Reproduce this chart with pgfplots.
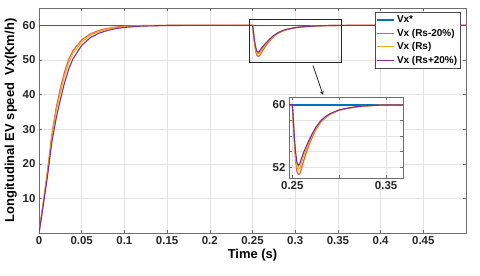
\documentclass[border=0pt]{standalone}
\usepackage{pgfplots}
\pgfplotsset{compat=1.18}
\usepackage{pgfplotstable}
\usepackage{fontspec}
\setmainfont{Liberation Sans}
\definecolor{mblue}{HTML}{0072BD}
\definecolor{morange}{RGB}{232,98,48}
\definecolor{myellow}{HTML}{EDB120}
\definecolor{mpurple}{HTML}{7E2F8E}
\definecolor{axgray}{RGB}{110,110,110}

\pgfplotstableread{
t      lo     rs     hi
0      0      0      0
0.005  8.8    8.5    8.0
0.01   18.0   17.5   16.5
0.015  28.5   27.8   26.2
0.02   36.0   35.0   33.0
0.025  41.8   40.5   38.5
0.03   46.6   45.5   43.5
0.035  50.3   49.3   47.5
0.04   52.8   51.9   50.4
0.05   55.8   55.2   54.2
0.06   57.5   57.1   56.4
0.07   58.5   58.2   57.7
0.08   59.1   58.9   58.5
0.09   59.5   59.35  59.05
0.1    59.7   59.6   59.4
0.12   59.92  59.86  59.78
0.15   59.99  59.97  59.94
0.2    60     60     60
0.25   60     60     60
0.2505 59.2   59.25  59.3
0.252  55.6   55.9   56.3
0.2535 52.8   53.3   53.9
0.255  51.4   52.0   52.6
0.2565 51.05  51.72  52.17
0.258  51.15  51.9   52.45
0.26   51.9   52.6   53.2
0.2625 52.95  53.55  54.0
0.265  53.9   54.35  54.7
0.27   55.5   55.8   56.0
0.275  56.8   56.95  57.1
0.28   57.7   57.8   57.9
0.285  58.3   58.38  58.45
0.29   58.75  58.8   58.85
0.3    59.3   59.32  59.35
0.31   59.57  59.58  59.6
0.32   59.75  59.76  59.78
0.33   59.86  59.87  59.88
0.34   59.93  59.93  59.94
0.36   59.99  59.99  59.99
0.5    60     60     60
}\speed

\pgfplotstableread{
t    ref
0    60
0.5  60
}\refdata

\begin{document}
\begin{tikzpicture}
\pgfplotsset{
  every axis/.append style={
    scale only axis,
    font=\fontsize{11.5}{13}\selectfont\bfseries,
    axis line style={axgray, line width=0.6pt},
    tick style={axgray, line width=0.5pt},
    major tick length=3bp,
    tick align=inside,
    grid=major,
    grid style={gray!22, line width=0.5pt},
    tick label style={font=\fontsize{11.5}{13}\selectfont\bfseries, text=black!85},
  },
}
\path[use as bounding box] (-39bp,-43bp) rectangle (441bp,233bp);
\begin{axis}[
  name=main,
  at={(0,0)}, anchor=south west,
  width=427bp, height=225bp,
  xmin=0, xmax=0.5, ymin=0, ymax=65,
  xtick={0,0.05,...,0.45},
  xticklabels={0,0.05,0.1,0.15,0.2,0.25,0.3,0.35,0.4,0.45},
  ytick={10,20,...,60},
  yticklabels={10,20,30,40,50,60},
  xlabel={Time (s)},
  ylabel={Longitudinal EV speed\ \ Vx(Km/h)},
  label style={font=\fontsize{13}{15}\selectfont\bfseries},
  xlabel style={yshift=2bp},
  ylabel style={yshift=-1bp},
  legend style={at={(0.988,0.982)}, anchor=north east,
    font=\fontsize{10}{11}\selectfont\bfseries,
    draw=black!70, line width=0.6pt, inner sep=1.5pt,
    row sep=0.8pt,
    legend cell align=left},
]
\addplot[mblue, line width=1.6pt] table[x=t,y=ref] {\refdata};
\addlegendentry{Vx*}
\addplot[morange, line width=1.2pt] table[x=t,y=lo] {\speed};
\addlegendentry{Vx (Rs-20\%)}
\addplot[myellow, line width=1.1pt] table[x=t,y=rs] {\speed};
\addlegendentry{Vx (Rs)}
\addplot[mpurple, line width=1.1pt] table[x=t,y=hi] {\speed};
\addlegendentry{Vx (Rs+20\%)}
\draw[black!85, line width=0.9pt] (axis cs:0.247,49.3) rectangle (axis cs:0.354,61.7);
\draw[black!85, line width=0.8pt, -stealth] (axis cs:0.3208,48.4) -- (axis cs:0.3326,39.9);
\end{axis}
\begin{axis}[
  at={(250bp,55bp)}, anchor=south west,
  width=114bp, height=81bp,
  xmin=0.2465, xmax=0.368, ymin=50.6, ymax=61,
  xtick={0.25,0.3,0.35},
  xticklabels={0.25,,0.35},
  ytick={52,54,56,58,60},
  yticklabels={52,,,,60},
  axis background/.style={fill=white},
  axis line style={axgray, line width=0.6pt},
]
\addplot[mblue, line width=1.6pt] table[x=t,y=ref] {\refdata};
\addplot[morange, line width=1.2pt] table[x=t,y=lo] {\speed};
\addplot[myellow, line width=1.1pt] table[x=t,y=rs] {\speed};
\addplot[mpurple, line width=1.1pt] table[x=t,y=hi] {\speed};
\end{axis}
\end{tikzpicture}
\end{document}
